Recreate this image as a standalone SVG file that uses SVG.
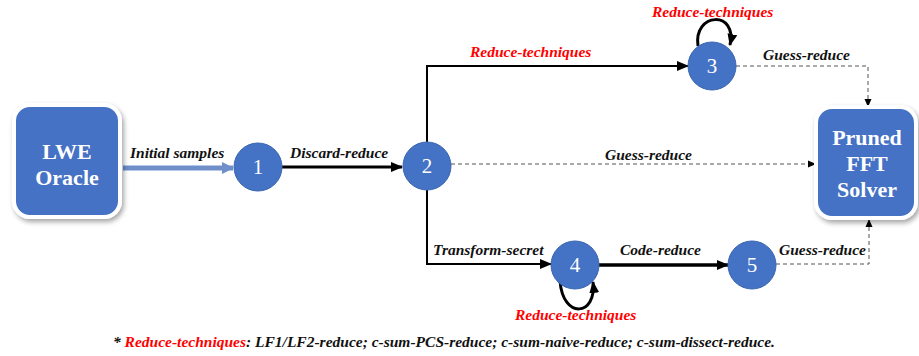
<svg xmlns="http://www.w3.org/2000/svg" width="919" height="356" viewBox="0 0 919 356">
<style>
.box{fill:#4472C4;stroke:#fff;stroke-width:4}
.boxtxt{font-family:"Liberation Serif","Times New Roman",serif;font-weight:bold;font-size:22px;fill:#fff;text-anchor:middle}
.node{fill:#4472C4;stroke:#3A66B0;stroke-width:1}
.num{font-family:"Liberation Serif","Times New Roman",serif;font-size:21px;fill:#fff;text-anchor:middle}
.lbl{font-family:"Liberation Serif","Times New Roman",serif;font-weight:bold;font-style:italic;font-size:15.5px;fill:#111}
.red{fill:#FF0000}
.solid{fill:none;stroke:#000}
.dash{fill:none;stroke:#555;stroke-width:1;stroke-dasharray:4 3}
</style>
<defs>
<filter id="sh" x="-20%" y="-20%" width="140%" height="140%">
<feDropShadow dx="2" dy="3" stdDeviation="2.5" flood-color="#000" flood-opacity="0.35"/>
</filter>
<marker id="ab" markerUnits="userSpaceOnUse" markerWidth="12" markerHeight="10" refX="11" refY="5" orient="auto"><path d="M0,0 L12,5 L0,10 Z" fill="#000"/></marker>
<marker id="as" markerUnits="userSpaceOnUse" markerWidth="8" markerHeight="8" refX="7" refY="4" orient="auto"><path d="M0,0.5 L8,4 L0,7.5 Z" fill="#000"/></marker>
<marker id="abl" markerUnits="userSpaceOnUse" markerWidth="12" markerHeight="12" refX="11" refY="6" orient="auto"><path d="M0,0 L12,6 L0,12 Z" fill="#6F8FCB"/></marker>
</defs>

<g id="connectors">
<line x1="123" y1="168" x2="233" y2="168" stroke="#6F8FCB" stroke-width="5" marker-end="url(#abl)"/>
<line x1="282" y1="167" x2="402" y2="167" class="solid" stroke-width="3" marker-end="url(#ab)"/>
<path d="M427,142 V66 H688" class="solid" stroke-width="2" marker-end="url(#ab)"/>
<path d="M427,190 V264 H551" class="solid" stroke-width="2" marker-end="url(#ab)"/>
<path d="M451,164 H815" class="dash" marker-end="url(#as)"/>
<path d="M736,66 H868 V106" class="dash" marker-end="url(#as)"/>
<path d="M599,265 H728" class="solid" stroke-width="3.5" marker-end="url(#ab)"/>
<path d="M776,264 H869 V220" class="dash" marker-end="url(#as)"/>
<path d="M698,46 C693,12 738,10 730,45" class="solid" stroke-width="3" marker-end="url(#ab)"/>
<path d="M560,281 C563,320 597,316 593,282" class="solid" stroke-width="3" marker-end="url(#ab)"/>
</g>

<g id="lwe">
<rect class="box" x="14" y="105" width="106" height="112" rx="16" filter="url(#sh)"/>
<text class="boxtxt" x="67" y="159">LWE</text>
<text class="boxtxt" x="67" y="185">Oracle</text>
</g>

<g id="fft">
<rect class="box" x="816" y="107" width="100" height="111" rx="16" filter="url(#sh)"/>
<text class="boxtxt" x="867" y="145">Pruned</text>
<text class="boxtxt" x="867" y="171">FFT</text>
<text class="boxtxt" x="867" y="197">Solver</text>
</g>

<g id="n1"><circle class="node" cx="258" cy="167" r="24"/><text class="num" x="258" y="174">1</text></g>
<g id="n2"><circle class="node" cx="427" cy="166" r="24"/><text class="num" x="427" y="173">2</text></g>
<g id="n3"><circle class="node" cx="712" cy="66" r="24"/><text class="num" x="712" y="73">3</text></g>
<g id="n4"><circle class="node" cx="575" cy="265" r="24"/><text class="num" x="575" y="272">4</text></g>
<g id="n5"><circle class="node" cx="752" cy="265" r="24"/><text class="num" x="752" y="272">5</text></g>

<g id="labels">
<text class="lbl" x="130" y="158">Initial samples</text>
<text class="lbl" x="290" y="158">Discard-reduce</text>
<text class="lbl red" x="470" y="57">Reduce-techniques</text>
<text class="lbl red" x="652" y="17">Reduce-techniques</text>
<text class="lbl" x="763" y="60">Guess-reduce</text>
<text class="lbl" x="605" y="160">Guess-reduce</text>
<text class="lbl" x="433" y="255">Transform-secret</text>
<text class="lbl" x="620" y="255">Code-reduce</text>
<text class="lbl" x="779" y="255">Guess-reduce</text>
<text class="lbl red" x="515" y="320">Reduce-techniques</text>
<text class="lbl" x="113" y="347" textLength="662" lengthAdjust="spacingAndGlyphs">* <tspan class="red">Reduce-techniques</tspan>: LF1/LF2-reduce; c-sum-PCS-reduce; c-sum-naive-reduce; c-sum-dissect-reduce.</text>
</g>
</svg>
